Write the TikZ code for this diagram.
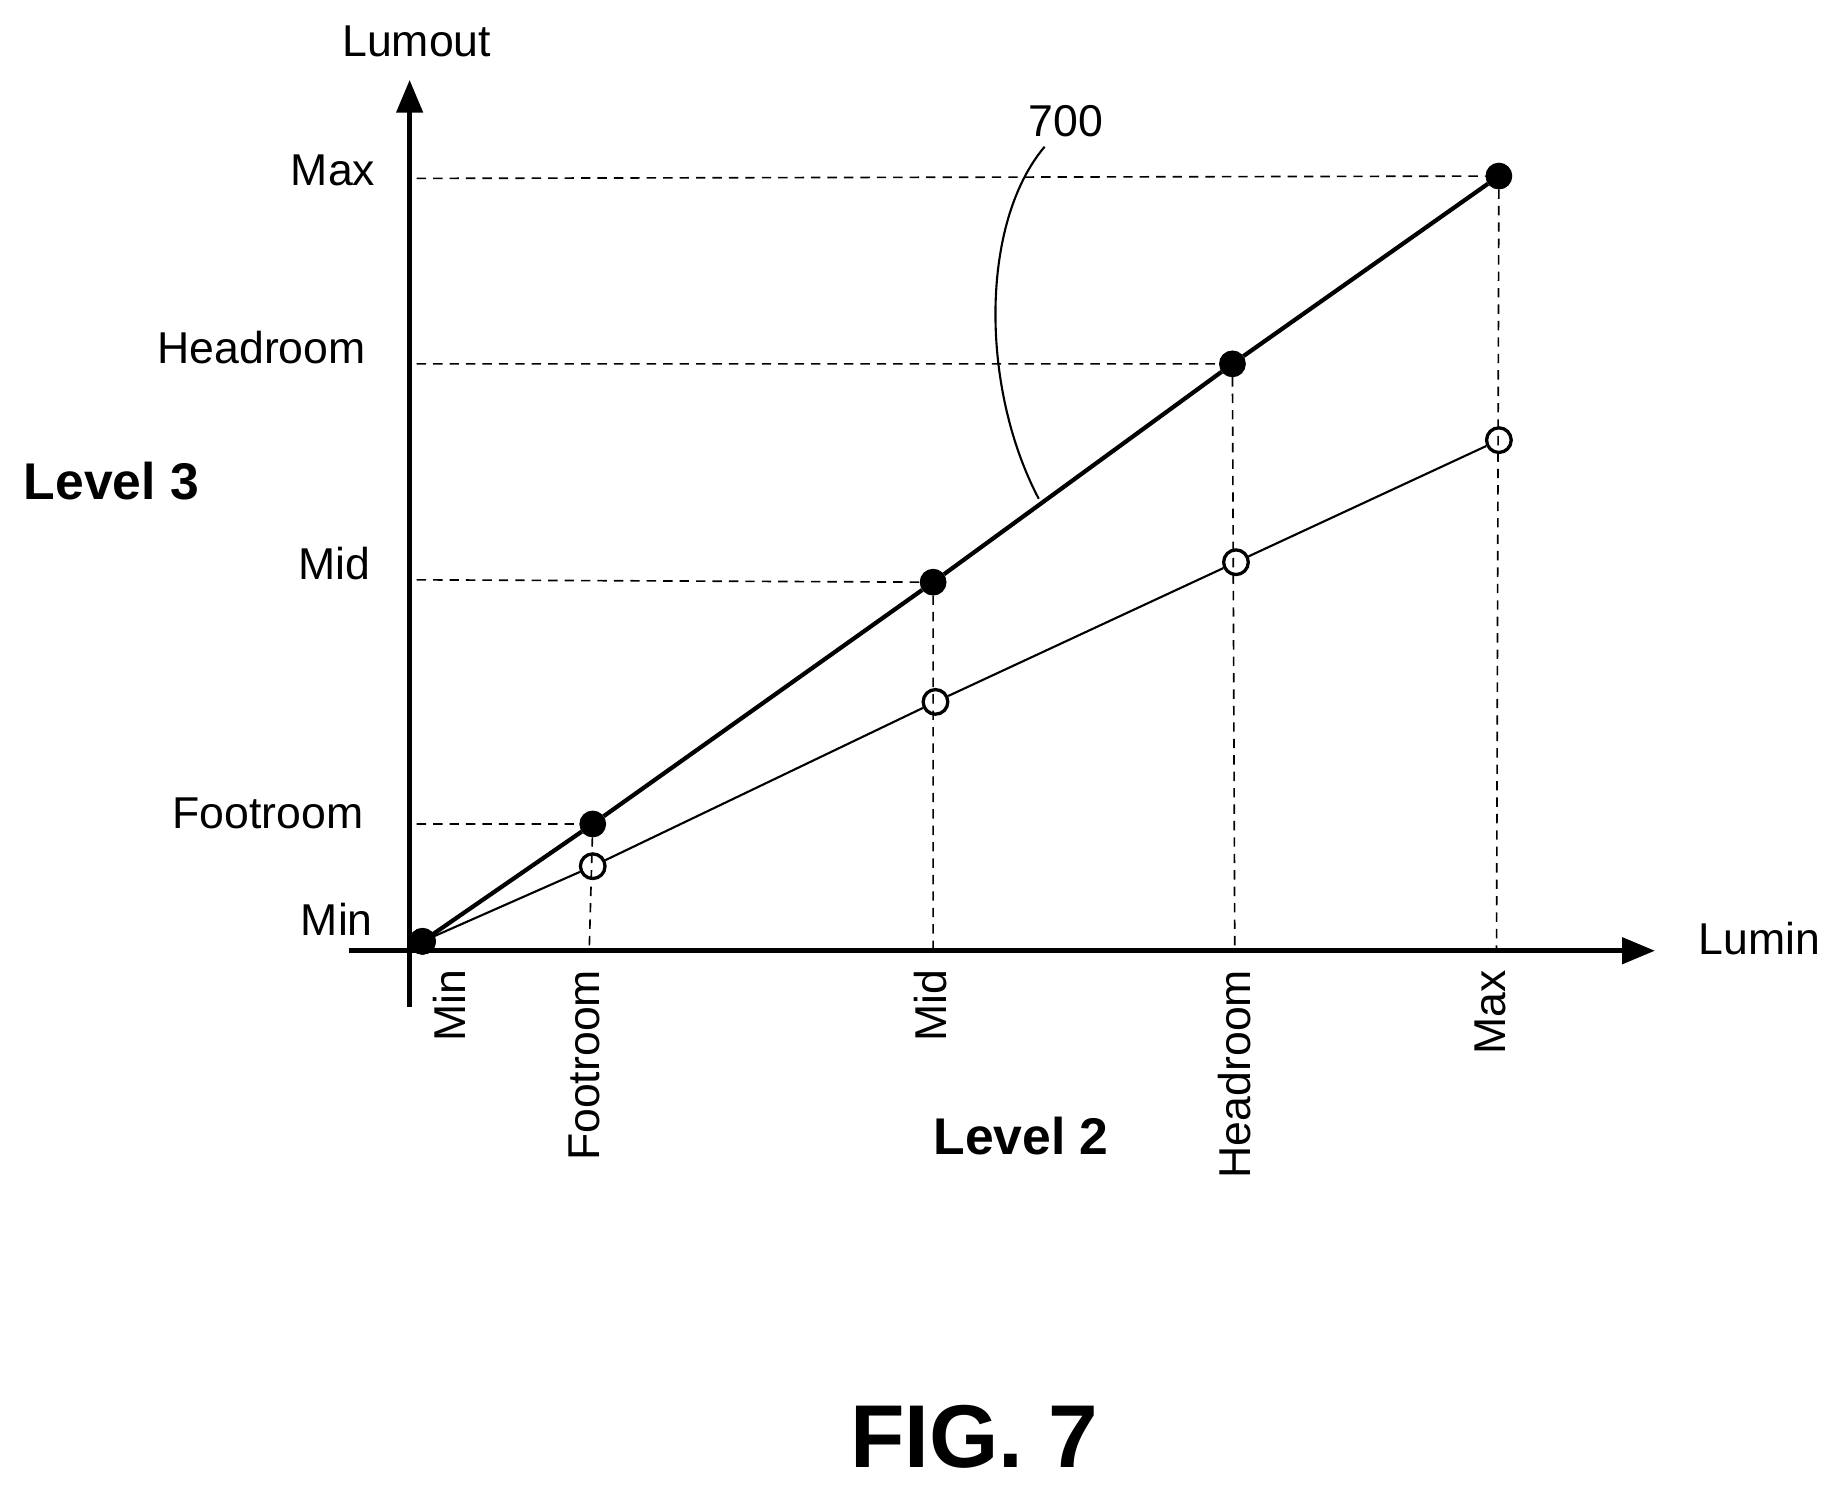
\documentclass[tikz,border=0pt]{standalone}
\usepackage{fontspec}
\setmainfont{Liberation Sans}
\usetikzlibrary{arrows.meta}
\begin{document}
\begin{tikzpicture}[x=0.5pt,y=-0.5pt,
  lbl/.style={font=\fontsize{19}{22}\selectfont, inner sep=0pt},
  big/.style={font=\bfseries\fontsize{22}{26}\selectfont, inner sep=0pt},
  fdot/.style={circle,fill=black,draw=black,minimum size=11pt,inner sep=0pt},
  odot/.style={circle,fill=white,draw=black,line width=1.4pt,minimum size=10.5pt,inner sep=0pt},
  dsh/.style={dashed,line width=0.7pt,dash pattern=on 4pt off 3pt},
  axis/.style={line width=2.2pt,-{Triangle[length=14pt,width=11pt]}}]
\useasboundingbox (0,0) rectangle (1554,1268);
\coordinate (ytop) at (349,68);
\coordinate (ybot) at (349,858);
\coordinate (xl) at (297,810);
\coordinate (xr) at (1410,810);
\node[fdot] (f0) at (360,802) {};
\node[fdot] (f1) at (505,702) {};
\node[fdot] (f2) at (795,496) {};
\node[fdot] (f3) at (1050,310) {};
\node[fdot] (f4) at (1277,150) {};
\node[odot] (o1) at (505,738) {};
\node[odot] (o2) at (797,598) {};
\node[odot] (o3) at (1053,479) {};
\node[odot] (o4) at (1277,375) {};
\coordinate (h1) at (355,702); \coordinate (h2) at (355,494);
\coordinate (h3) at (355,310); \coordinate (h4) at (355,152);
\coordinate (v1) at (502,810); \coordinate (v2) at (795,810);
\coordinate (v3) at (1052,810); \coordinate (v4) at (1275,810);
\draw[dsh] (h1) -- (f1) (h2) -- (f2) (h3) -- (f3) (h4) -- (f4);
\draw[dsh] (f1) -- (v1) (f2) -- (v2) (f3) -- (v3) (f4) -- (v4);
\draw[line width=1.8pt] (f0.center) -- (f1) -- (f2) -- (f3) -- (f4);
\draw[line width=0.9pt] (f0.center) -- (o1) -- (o2) -- (o3) -- (o4);
\node[fdot] at (360,802) {};
\draw[axis] (ybot) -- (ytop);
\draw[axis] (xl) -- (xr);
\node[lbl] (lumout) at (355,35) {Lumout};
\node[lbl,anchor=east] (ymax) at (320,145) {Max};
\node[lbl,anchor=east] (yhead) at (312,296) {Headroom};
\node[lbl,anchor=east] (ymid) at (316,480) {Mid};
\node[lbl,anchor=east] (yfoot) at (310,693) {Footroom};
\node[lbl,anchor=east] (ymin) at (318,783) {Min};
\node[big] (l3) at (95,410) {Level 3};
\node[lbl,anchor=west] (lumin) at (1447,800) {Lumin};
\node[lbl,rotate=90,anchor=east] (xmin) at (383,826) {Min};
\node[lbl,rotate=90,anchor=east] (xfoot) at (498,826) {Footroom};
\node[lbl,rotate=90,anchor=east] (xmid) at (793,826) {Mid};
\node[lbl,rotate=90,anchor=east] (xhead) at (1052,826) {Headroom};
\node[lbl,rotate=90,anchor=east] (xmax) at (1270,826) {Max};
\node[big] (l2) at (870,968) {Level 2};
\node[font=\bfseries\fontsize{38}{42}\selectfont,inner sep=0pt] (fig) at (830,1224) {FIG. 7};
\node[lbl] (n700) at (908,103) {700};
\coordinate (lead) at (885,425);
\draw[line width=0.9pt] (890,125) .. controls (835,190) and (835,330) .. (lead);
\end{tikzpicture}
\end{document}
